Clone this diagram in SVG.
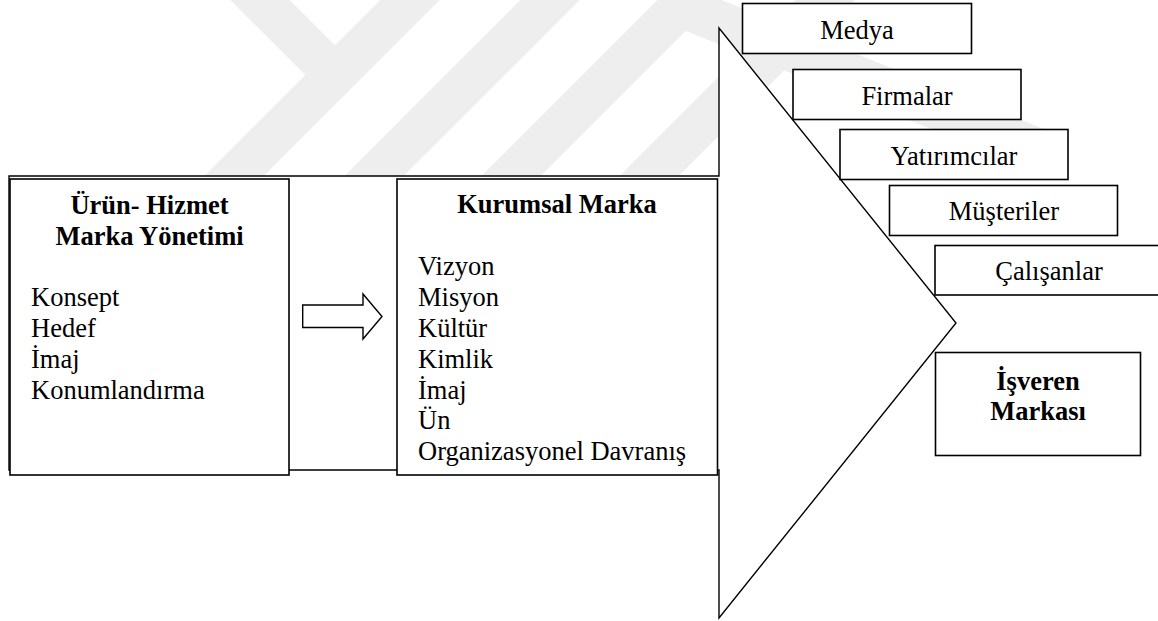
<svg xmlns="http://www.w3.org/2000/svg" width="1158" height="621" viewBox="0 0 1158 621">
  <style>
    .box { fill: #ffffff; stroke: #000000; stroke-width: 1.6; }
    .shape { fill: #ffffff; stroke: #000000; stroke-width: 1.4; stroke-linejoin: miter; }
    text { font-family: 'Liberation Serif', 'Times New Roman', serif; font-size: 26.5px; fill: #000000; }
    .b { font-weight: bold; }
    .c { text-anchor: middle; }
    .wm { fill: none; stroke: #eeeeee; stroke-width: 42; }
  </style>

  <rect width="1158" height="621" fill="#ffffff"/>

  <!-- faint background mark -->
  <g id="watermark">
    <line class="wm" x1="240" y1="-20" x2="330" y2="70"/>
    <line class="wm" x1="215" y1="195" x2="425" y2="-15"/>
    <line class="wm" x1="355" y1="195" x2="565" y2="-15"/>
    <line class="wm" x1="492" y1="195" x2="702" y2="-15"/>
    <line class="wm" x1="630" y1="195" x2="840" y2="-15"/>
    <line class="wm" x1="690" y1="10" x2="1050" y2="154"/>
  </g>

  <!-- large block arrow carrying the two stages -->
  <g id="flow-arrow">
    <path class="shape" d="M 9 176 H 719 V 28 L 956 323 L 719 618 V 470 H 9 Z"/>
  </g>

  <g id="node-urun-hizmet">
    <rect class="box" x="10" y="179" width="279" height="296"/>
    <text class="b c" x="149.5" y="214">Ürün- Hizmet</text>
    <text class="b c" x="149.5" y="245">Marka Yönetimi</text>
    <text x="31" y="306">Konsept</text>
    <text x="31" y="337">Hedef</text>
    <text x="31" y="368">İmaj</text>
    <text x="31" y="399">Konumlandırma</text>
  </g>

  <g id="node-kurumsal-marka">
    <rect class="box" x="397" y="179" width="320.5" height="296"/>
    <text class="b c" x="557" y="213">Kurumsal Marka</text>
    <text x="418" y="275">Vizyon</text>
    <text x="418" y="306">Misyon</text>
    <text x="418" y="337">Kültür</text>
    <text x="418" y="368">Kimlik</text>
    <text x="418" y="399">İmaj</text>
    <text x="418" y="429">Ün</text>
    <text x="418" y="460">Organizasyonel Davranış</text>
  </g>

  <g id="connectors">
    <polygon class="shape" points="302.7,305 363,305 363,294 382,316.5 363,339 363,327.5 302.7,327.5"/>
  </g>

  <g id="node-medya">
    <rect class="box" x="742.5" y="3.5" width="229" height="50"/>
    <text class="c" x="857" y="38.5">Medya</text>
  </g>

  <g id="node-firmalar">
    <rect class="box" x="793" y="69.5" width="228" height="50"/>
    <text class="c" x="907" y="104.5">Firmalar</text>
  </g>

  <g id="node-yatirimcilar">
    <rect class="box" x="840" y="129.5" width="228" height="50"/>
    <text class="c" x="954" y="164.5">Yatırımcılar</text>
  </g>

  <g id="node-musteriler">
    <rect class="box" x="889.5" y="185.5" width="228" height="50"/>
    <text class="c" x="1004" y="220">Müşteriler</text>
  </g>

  <g id="node-calisanlar">
    <rect class="box" x="935" y="245.5" width="228" height="49.5"/>
    <text class="c" x="1049" y="280">Çalışanlar</text>
  </g>

  <g id="node-isveren-markasi">
    <rect class="box" x="935.5" y="352.5" width="205" height="103"/>
    <text class="b c" x="1038" y="389.5">İşveren</text>
    <text class="b c" x="1038" y="419.5">Markası</text>
  </g>
</svg>
